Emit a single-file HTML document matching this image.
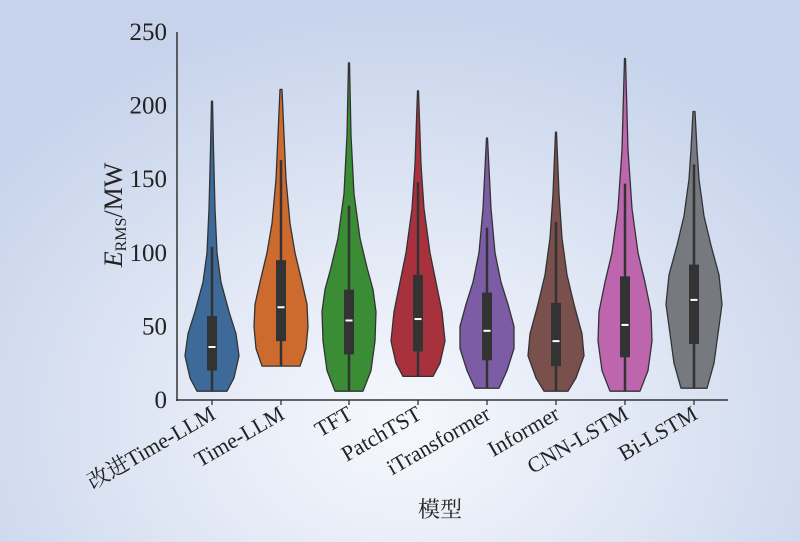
<!DOCTYPE html>
<html><head><meta charset="utf-8"><style>
html,body{margin:0;padding:0;width:800px;height:542px;overflow:hidden}
body{background:radial-gradient(ellipse 520px 420px at 400px 420px,#f6f8fd 0%,#dfe6f4 50%,#c6d3eb 100%)}
svg{position:absolute;left:0;top:0}
text{font-family:"Liberation Serif","Noto Serif CJK SC",serif;fill:#222}
</style></head><body>
<svg id="s" width="800" height="542" xmlns="http://www.w3.org/2000/svg">
<g id="v"></g>
<line x1="177" y1="32" x2="177" y2="401" stroke="#333" stroke-width="1.5"/>
<line x1="176" y1="400" x2="728" y2="400" stroke="#333" stroke-width="1.5"/>
<g id="yt" font-size="25" text-anchor="end"></g>
<g id="ticks"></g>
<text transform="translate(122,215) rotate(-90)" font-size="26" text-anchor="middle"><tspan font-style="italic">E</tspan><tspan font-size="16" dy="4">RMS</tspan><tspan dy="-4">/MW</tspan></text>
<g id="lab" font-size="22" text-anchor="end"></g>
<text x="440" y="517" font-size="22" text-anchor="middle">模型</text>
</svg>
<script>
function Y(v){return 400-1.472*v}
var yt='';[0,50,100,150,200,250].forEach(function(v){yt+='<text x="167" y="'+(Y(v)+8)+'">'+v+'</text>'});
document.getElementById('yt').innerHTML=yt;
var D=[
["改进Time-LLM",212,"#3d6a98",[[6,15],[15,22],[30,27],[45,24],[60,17],[80,9],[100,5],[130,3],[170,1.5],[203,0.5]],20,36,57,104],
["Time-LLM",281,"#cd6b2f",[[23,19],[35,25],[50,27],[65,26],[80,21],[100,14],[120,9],[150,5],[180,3],[211,1]],40,63,95,163],
["TFT",349,"#3a8c35",[[6,14],[20,22],[40,26],[60,27],[75,24],[90,18],[110,11],[140,5],[180,2],[229,0.5]],31,54,75,132],
["PatchTST",418,"#a8313e",[[16,15],[25,22],[40,27],[60,24],[80,18],[100,12],[130,6],[160,3],[210,0.5]],33,55,85,148],
["iTransformer",487,"#7d5ca6",[[8,12],[20,20],[35,27],[50,27],[65,21],[80,14],[100,8],[130,4],[178,0.5]],27,47,73,117],
["Informer",556,"#7a504d",[[6,12],[15,20],[30,28],[45,26],[65,18],[85,11],[110,6],[140,3],[182,0.5]],23,40,66,121],
["CNN-LSTM",625,"#bd66ad",[[6,15],[20,23],[40,27],[60,26],[80,20],[100,13],[130,7],[170,3],[232,0.5]],29,51,84,147],
["Bi-LSTM",694,"#767980",[[8,13],[25,20],[45,24],[65,28],[85,25],[105,17],[125,10],[150,5],[170,3],[196,1]],38,68,92,160]];
var h='',tk='',lb='';
D.forEach(function(d){
 var x=d[1],p=d[3],pts=[];
 p.forEach(function(q){pts.push((x+q[1]).toFixed(1)+','+Y(q[0]).toFixed(1))});
 for(var i=p.length-1;i>=0;i--)pts.push((x-p[i][1]).toFixed(1)+','+Y(p[i][0]).toFixed(1));
 h+='<polygon points="'+pts.join(' ')+'" fill="'+d[2]+'" stroke="#333" stroke-width="1.3" stroke-linejoin="round"/>';
 h+='<line x1="'+x+'" y1="'+Y(p[0][0])+'" x2="'+x+'" y2="'+Y(d[7])+'" stroke="#333" stroke-width="2.5"/>';
 h+='<rect x="'+(x-5)+'" y="'+Y(d[6])+'" width="10" height="'+(Y(d[4])-Y(d[6]))+'" fill="#333"/>';
 h+='<line x1="'+(x-3.5)+'" y1="'+Y(d[5])+'" x2="'+(x+3.5)+'" y2="'+Y(d[5])+'" stroke="#fff" stroke-width="2"/>';
 tk+='<line x1="'+x+'" y1="400" x2="'+x+'" y2="405" stroke="#333" stroke-width="1.3"/>';
 lb+='<text transform="translate('+(x+5)+',418) rotate(-30)">'+d[0]+'</text>';
});
document.getElementById('v').innerHTML=h;
document.getElementById('ticks').innerHTML=tk;
document.getElementById('lab').innerHTML=lb;
</script>
</body></html>
